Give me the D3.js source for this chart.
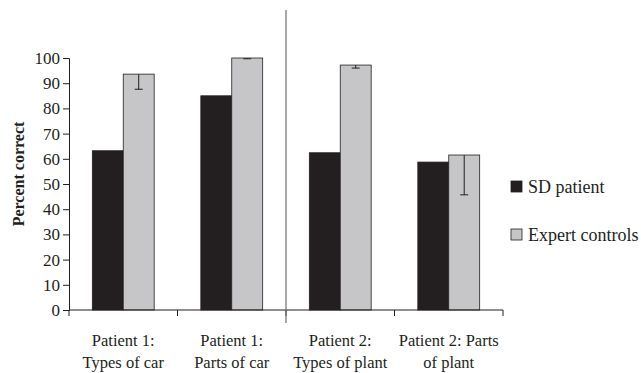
<!DOCTYPE html>
<html>
<head>
<meta charset="utf-8">
<script src="https://cdn.jsdelivr.net/npm/d3@7"></script>
<style>
  body { margin: 0; background: #fff; }
  svg text { font-family: "Liberation Serif", "DejaVu Serif", serif; fill: #231f20; }
</style>
</head>
<body>
<svg id="chart"></svg>
<script>
// data
const categories = [
  ["Patient 1:", "Types of car"],
  ["Patient 1:", "Parts of car"],
  ["Patient 2:", "Types of plant"],
  ["Patient 2: Parts", "of plant"]
];
const seriesNames = ["SD patient", "Expert controls"];
const sdPatient = [63.2, 85.0, 62.4, 58.7];
const expertControls = [93.6, 100, 97.2, 61.5];
const expertErrorLow = [6.0, 0.3, 1.2, 15.8];
const yTicks = [0, 10, 20, 30, 40, 50, 60, 70, 80, 90, 100];

const colors = ["#231f20", "#c6c6c8"];
const serif = '"Liberation Serif", "DejaVu Serif", serif';

const width = 641, height = 373;
const margin = {top: 58, left: 69, right: 138, bottom: 63};

const svg = d3.select('#chart')
  .attr('width', width)
  .attr('height', height);

const keys = categories.map((c, i) => i);

const x = d3.scaleBand()
  .domain(keys)
  .range([margin.left, width - margin.right])
  .paddingInner(0.43)
  .paddingOuter(0.215);

const xSub = d3.scaleBand()
  .domain([0, 1])
  .range([0, x.bandwidth()]);

const y = d3.scaleLinear()
  .domain([0, 100])
  .range([height - margin.bottom, margin.top]);

const rows = keys.map(i => ({i, values: [sdPatient[i], expertControls[i]]}));

// bars
const groups = svg.append('g').selectAll('g')
  .data(rows)
  .join('g')
  .attr('transform', d => `translate(${x(d.i)},0)`);

groups.selectAll('rect')
  .data(d => d.values.map((v, s) => ({v, s})))
  .join('rect')
  .attr('x', d => xSub(d.s))
  .attr('y', d => y(d.v))
  .attr('width', xSub.bandwidth())
  .attr('height', d => y(0) - y(d.v))
  .attr('fill', d => colors[d.s])
  .attr('stroke', '#231f20')
  .attr('stroke-width', 0.8);

// error bars (only the lower half shows)
groups.append('g')
  .each(function(d) {
    const g = d3.select(this);
    const cx = xSub(1) + xSub.bandwidth() / 2;
    const top = y(expertControls[d.i]);
    const bot = y(expertControls[d.i] - expertErrorLow[d.i]);
    g.append('line')
      .attr('x1', cx).attr('x2', cx)
      .attr('y1', top).attr('y2', bot)
      .attr('stroke', '#231f20').attr('stroke-width', 1);
    g.append('line')
      .attr('x1', cx - 4).attr('x2', cx + 4)
      .attr('y1', bot).attr('y2', bot)
      .attr('stroke', '#231f20').attr('stroke-width', 1);
  });

// y axis
const yAxis = d3.axisLeft(y)
  .tickValues(yTicks)
  .tickSize(6)
  .tickPadding(3);

svg.append('g')
  .attr('transform', `translate(${margin.left},0)`)
  .call(yAxis)
  .attr('font-family', serif)
  .call(g => g.select('.domain').attr('stroke', '#231f20'))
  .call(g => g.selectAll('.tick line').attr('stroke', '#231f20'))
  .call(g => g.selectAll('.tick text')
    .style('font-size', '17px')
    .attr('fill', '#231f20'));

// x axis baseline and boundary ticks
const step = x.step();
const boundaries = keys.map(i => x(i) - step * x.paddingInner() / 2);
boundaries.push(x(keys[keys.length - 1]) + x.bandwidth() + step * x.paddingInner() / 2);

svg.append('line')
  .attr('x1', margin.left).attr('x2', boundaries[boundaries.length - 1])
  .attr('y1', y(0)).attr('y2', y(0))
  .attr('stroke', '#231f20').attr('stroke-width', 1.2);

svg.append('g').selectAll('line')
  .data(boundaries)
  .join('line')
  .attr('x1', d => d).attr('x2', d => d)
  .attr('y1', y(0)).attr('y2', y(0) + 6)
  .attr('stroke', '#231f20');

// divider between patients
svg.append('line')
  .attr('x1', boundaries[2]).attr('x2', boundaries[2])
  .attr('y1', 10).attr('y2', y(0) + 13)
  .attr('stroke', '#6d6d6d').attr('stroke-width', 1.2);

// category labels
svg.append('g').selectAll('text')
  .data(rows)
  .join('text')
  .attr('text-anchor', 'middle')
  .style('font-size', '16.5px')
  .attr('x', d => x(d.i) + x.bandwidth() / 2)
  .attr('y', y(0) + 36)
  .selectAll('tspan')
  .data(d => categories[d.i])
  .join('tspan')
  .attr('x', function() { return d3.select(this.parentNode).attr('x'); })
  .attr('dy', (d, j) => j === 0 ? 0 : 22)
  .text(d => d);

// y label
svg.append('text')
  .attr('transform', 'translate(24,174) rotate(-90)')
  .attr('text-anchor', 'middle')
  .style('font-size', '16px')
  .style('font-weight', 'bold')
  .text('Percent correct');

// legend
const legend = svg.append('g').selectAll('g')
  .data(seriesNames)
  .join('g')
  .attr('transform', (d, i) => `translate(511,${181 + i * 48})`);

legend.append('rect')
  .attr('width', 11).attr('height', 11)
  .attr('fill', (d, i) => colors[i])
  .attr('stroke', '#231f20').attr('stroke-width', 0.8);

legend.append('text')
  .attr('x', 17).attr('y', 12)
  .style('font-size', '18px')
  .text(d => d);
</script>
</body>
</html>
